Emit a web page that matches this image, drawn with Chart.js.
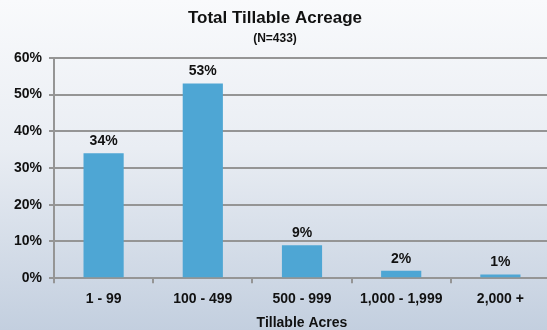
<!DOCTYPE html>
<html><head><meta charset="utf-8">
<script src="https://cdn.jsdelivr.net/npm/chart.js@4/dist/chart.umd.min.js"></script>
<style>
html,body{margin:0;padding:0;width:547px;height:330px;overflow:hidden;}
body{background:linear-gradient(180deg,#f9fafc 0%,#e9edf3 45%,#c3cfdf 100%);}
#wrap{position:relative;width:550px;height:330px;}
</style></head>
<body><div id="wrap"><canvas id="c"></canvas></div>
<script>
const categories = ['1 - 99', '100 - 499', '500 - 999', '1,000 - 1,999', '2,000 +'];
const values = [34, 53, 9, 2, 1];
const yMin = 0, yMax = 60, yStep = 10;
const titleText = 'Total Tillable Acreage';
const subtitleText = '(N=433)';
const xTitle = 'Tillable Acres';

const FONT = "'Liberation Sans', Arial, sans-serif";
const GRID = '#959595';

const labelPlugin = {
  id: 'barLabels',
  afterDatasetsDraw(chart) {
    const ctx = chart.ctx;
    const meta = chart.getDatasetMeta(0);
    ctx.save();
    ctx.font = 'bold 14px ' + FONT;
    ctx.fillStyle = '#111';
    ctx.textAlign = 'center';
    ctx.textBaseline = 'bottom';
    meta.data.forEach((bar, i) => {
      ctx.fillText(values[i] + '%', bar.x, bar.y - 5);
    });
    ctx.restore();
  }
};

new Chart(document.getElementById('c'), {
  type: 'bar',
  data: {
    labels: categories,
    datasets: [{
      data: values,
      backgroundColor: '#4ea6d4',
      borderWidth: 0,
      barPercentage: 0.405,
      categoryPercentage: 1
    }]
  },
  options: {
    responsive: true,
    maintainAspectRatio: false,
    animation: false,
    layout: { padding: { top: 8, left: 0, right: 0, bottom: 0 } },
    plugins: {
      legend: { display: false },
      tooltip: { enabled: false },
      title: {
        display: true, text: titleText, color: '#111',
        font: { family: FONT, size: 17, weight: 'bold' },
        padding: { top: 0, bottom: 3 }
      },
      subtitle: {
        display: true, text: subtitleText, color: '#111',
        font: { family: FONT, size: 12, weight: 'bold' },
        padding: { top: 0, bottom: 12 }
      }
    },
    scales: {
      x: {
        offset: true,
        grid: { display: true, drawOnChartArea: false, drawTicks: true, tickLength: 5, color: GRID, lineWidth: 2, offset: true },
        border: { display: true, color: GRID, width: 2 },
        ticks: { color: '#111', font: { family: FONT, size: 14, weight: 'bold' }, padding: 8, maxRotation: 0, autoSkip: false },
        title: { display: true, text: xTitle, color: '#111', font: { family: FONT, size: 14, weight: 'bold', lineHeight: 1 }, padding: { top: 0, bottom: 0 } }
      },
      y: {
        min: yMin, max: yMax,
        afterFit(scale) { scale.width = 54; },
        grid: { color: GRID, lineWidth: 2, drawTicks: true, tickLength: 5 },
        border: { display: true, color: GRID, width: 2 },
        ticks: { stepSize: yStep, color: '#111', font: { family: FONT, size: 14, weight: 'bold' }, padding: 7, callback: v => v + '%' }
      }
    }
  },
  plugins: [labelPlugin]
});
</script>
</body></html>
